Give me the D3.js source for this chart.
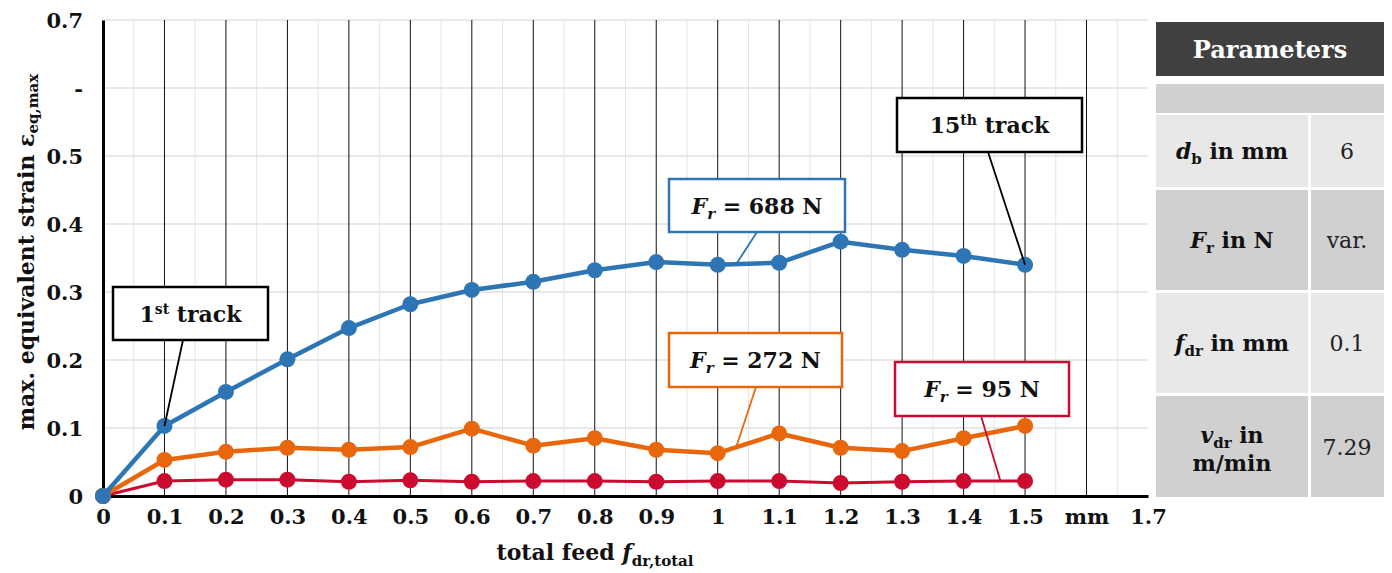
<!DOCTYPE html>
<html>
<head>
<meta charset="utf-8">
<script src="https://cdn.jsdelivr.net/npm/d3@7"></script>
<style>
  body { margin: 0; background: #fff; }
  svg text { font-family: "DejaVu Serif", "Liberation Serif", serif; }
</style>
</head>
<body>
<svg id="chart" width="1392" height="573"></svg>
<script>
// feed values (mm)
var feed = [0, 0.1, 0.2, 0.3, 0.4, 0.5, 0.6, 0.7, 0.8, 0.9, 1.0, 1.1, 1.2, 1.3, 1.4, 1.5];

var strain688 = [0, 0.103, 0.153, 0.201, 0.247, 0.282, 0.303, 0.315, 0.332, 0.344, 0.340, 0.343, 0.374, 0.362, 0.353, 0.340];
var strain272 = [0, 0.053, 0.065, 0.071, 0.068, 0.072, 0.099, 0.074, 0.085, 0.068, 0.063, 0.092, 0.071, 0.066, 0.085, 0.103];
var strain95  = [0, 0.022, 0.024, 0.024, 0.021, 0.023, 0.021, 0.022, 0.022, 0.021, 0.022, 0.022, 0.019, 0.021, 0.022, 0.022];

var xTicks = [0, 0.1, 0.2, 0.3, 0.4, 0.5, 0.6, 0.7, 0.8, 0.9, 1, 1.1, 1.2, 1.3, 1.4, 1.5, 1.6, 1.7];
var xTickLabels = ["0", "0.1", "0.2", "0.3", "0.4", "0.5", "0.6", "0.7", "0.8", "0.9", "1", "1.1", "1.2", "1.3", "1.4", "1.5", "mm", "1.7"];
var yTicks = [0, 0.1, 0.2, 0.3, 0.4, 0.5, 0.6, 0.7];
var yTickLabels = ["0", "0.1", "0.2", "0.3", "0.4", "0.5", "-", "0.7"];

var forces = ["688", "272", "95"];
var paramNames = ["d_b", "F_r", "f_dr", "v_dr"];
var paramValues = ["6", "var.", "0.1", "7.29"];

var series = [
  { name: forces[0], values: strain688, color: "#2e75b6", width: 4.5 },
  { name: forces[1], values: strain272, color: "#e8670c", width: 4.5 },
  { name: forces[2], values: strain95,  color: "#cc0a2f", width: 3 }
];

var svg = d3.select("#chart");

var x = d3.scaleLinear().domain([0, 1.7]).range([103, 1148]);
var y = d3.scaleLinear().domain([0, 0.7]).range([496, 20]);

// minor vertical gridlines
svg.append("g").selectAll("line")
   .data(d3.range(0.05, 1.7, 0.1))
   .enter().append("line")
     .attr("x1", function(d) { return x(d); })
     .attr("x2", function(d) { return x(d); })
     .attr("y1", y(0)).attr("y2", y(0.7))
     .attr("stroke", "#e4e4e4").attr("stroke-width", 1);

// horizontal gridlines
svg.append("g").selectAll("line")
   .data(yTicks.slice(1))
   .enter().append("line")
     .attr("x1", x(0)).attr("x2", x(1.7))
     .attr("y1", function(d) { return y(d); })
     .attr("y2", function(d) { return y(d); })
     .attr("stroke", "#e0e0e0").attr("stroke-width", 1.5);

// major vertical gridlines (black)
svg.append("g").selectAll("line")
   .data(xTicks.slice(1, 17))
   .enter().append("line")
     .attr("x1", function(d) { return x(d); })
     .attr("x2", function(d) { return x(d); })
     .attr("y1", y(0)).attr("y2", y(0.7))
     .attr("stroke", "#111").attr("stroke-width", 1);

// axes
var xAxis = d3.axisBottom(x).tickValues(xTicks).tickSize(0)
              .tickFormat(function(d, i) { return xTickLabels[i]; });
var yAxis = d3.axisLeft(y).tickValues(yTicks).tickSize(0)
              .tickFormat(function(d, i) { return yTickLabels[i]; });

var gx = svg.append("g").attr("transform", "translate(0," + y(0) + ")").call(xAxis);
gx.select(".domain").attr("stroke", "#000").attr("stroke-width", 3);
gx.selectAll("text").attr("dy", 0).attr("y", 28)
  .style("font-size", "21px").style("font-weight", "bold").attr("fill", "#111");

var gy = svg.append("g").attr("transform", "translate(" + x(0) + ",0)").call(yAxis);
gy.select(".domain").attr("stroke", "#000").attr("stroke-width", 3);
gy.selectAll("text").attr("x", -20).attr("dy", "0.35em")
  .style("font-size", "21px").style("font-weight", "bold").attr("fill", "#111");

// lines and markers
var line = d3.line()
  .x(function(d, i) { return x(feed[i]); })
  .y(function(d) { return y(d); });

series.slice().reverse().forEach(function(s) {
  svg.append("path").datum(s.values)
     .attr("d", line)
     .attr("fill", "none")
     .attr("stroke", s.color)
     .attr("stroke-width", s.width)
     .attr("stroke-linejoin", "round");
  svg.append("g").selectAll("circle")
     .data(s.values).enter().append("circle")
       .attr("cx", function(d, i) { return x(feed[i]); })
       .attr("cy", function(d) { return y(d); })
       .attr("r", 8)
       .attr("fill", s.color);
});

// annotation callouts
function valueAt(vals, f) {
  var i = Math.floor(f * 10 + 1e-9);
  var t = f * 10 - i;
  if (i >= vals.length - 1) return vals[vals.length - 1];
  return vals[i] + (vals[i + 1] - vals[i]) * t;
}

var callouts = [
  { box: [113, 287, 155, 53], color: "#000", from: [183, 340], to: [0.1, strain688], parts: [["1", ""], ["st", "sup"], [" track", ""]] },
  { box: [897, 98, 185, 54], color: "#000", from: [988, 152], to: [1.5, strain688], parts: [["15", ""], ["th", "sup"], [" track", ""]] },
  { box: [669, 179, 176, 53], color: "#2e75b6", from: [757, 232], to: [1.03, strain688], parts: [["F", "it"], ["r", "itsub"], [" = " + forces[0] + " N", ""]] },
  { box: [669, 333, 173, 54], color: "#e8670c", from: [756, 387], to: [1.03, strain272], parts: [["F", "it"], ["r", "itsub"], [" = " + forces[1] + " N", ""]] },
  { box: [895, 362, 174, 54], color: "#cc0a2f", from: [981, 416], to: [1.46, strain95], parts: [["F", "it"], ["r", "itsub"], [" = " + forces[2] + " N", ""]] }
];

callouts.forEach(function(c) {
  var tx = x(c.to[0]), ty = y(valueAt(c.to[1], c.to[0]));
  svg.append("line")
     .attr("x1", c.from[0]).attr("y1", c.from[1])
     .attr("x2", tx).attr("y2", ty)
     .attr("stroke", c.color).attr("stroke-width", 1.8);
  svg.append("rect")
     .attr("x", c.box[0]).attr("y", c.box[1])
     .attr("width", c.box[2]).attr("height", c.box[3])
     .attr("fill", "#fff").attr("stroke", c.color).attr("stroke-width", 2.5);
  var t = svg.append("text")
     .attr("x", c.box[0] + c.box[2] / 2)
     .attr("y", c.box[1] + c.box[3] / 2 + 8)
     .attr("text-anchor", "middle")
     .style("font-size", "22px").style("font-weight", "bold").attr("fill", "#111");
  c.parts.forEach(function(p) {
    var ts = t.append("tspan").text(p[0]);
    if (p[1] === "sup") ts.style("font-size", "14px").attr("baseline-shift", "8px");
    if (p[1] === "it") ts.style("font-style", "italic");
    if (p[1] === "itsub") ts.style("font-style", "italic").style("font-size", "15px").attr("baseline-shift", "-5px");
  });
});

// axis titles
var yt = svg.append("text")
  .attr("transform", "translate(34,252) rotate(-90)")
  .attr("text-anchor", "middle")
  .style("font-size", "22px").style("font-weight", "bold").attr("fill", "#111");
yt.append("tspan").text("max. equivalent strain ε");
yt.append("tspan").text("eq,max").style("font-size", "15px").attr("baseline-shift", "-4px");

var xt = svg.append("text")
  .attr("x", 595).attr("y", 560)
  .attr("text-anchor", "middle")
  .style("font-size", "22px").style("font-weight", "bold").attr("fill", "#111");
xt.append("tspan").text("total feed ");
xt.append("tspan").text("f").style("font-style", "italic");
xt.append("tspan").text("dr,total").style("font-size", "15px").attr("baseline-shift", "-6px");

// parameter table
var tab = svg.append("g");
tab.append("rect").attr("x", 1156).attr("y", 22).attr("width", 228).attr("height", 54).attr("fill", "#404040");
tab.append("text").attr("x", 1270).attr("y", 58).attr("text-anchor", "middle")
   .style("font-size", "24px").style("font-weight", "bold").attr("fill", "#fff").text("Parameters");
tab.append("rect").attr("x", 1156).attr("y", 84).attr("width", 228).attr("height", 29).attr("fill", "#d0d0d0");

var rowTop = [115, 190, 293, 396];
var rowH = [72, 100, 100, 101];
var rowFill = ["#e8e8e8", "#d0d0d0", "#e8e8e8", "#d0d0d0"];

paramNames.forEach(function(p, i) {
  tab.append("rect").attr("x", 1156).attr("y", rowTop[i]).attr("width", 152).attr("height", rowH[i]).attr("fill", rowFill[i]);
  tab.append("rect").attr("x", 1311).attr("y", rowTop[i]).attr("width", 73).attr("height", rowH[i]).attr("fill", rowFill[i]);
  var cy = rowTop[i] + rowH[i] / 2;
  var parts = p.split("_");
  var unit = i === 0 || i === 2 ? " in mm" : (i === 1 ? " in N" : " in");
  var lbl = tab.append("text").attr("x", 1232).attr("y", i === 3 ? cy - 4 : cy + 8)
     .attr("text-anchor", "middle")
     .style("font-size", "22px").style("font-weight", "bold").attr("fill", "#111");
  lbl.append("tspan").text(parts[0]).style("font-style", "italic");
  lbl.append("tspan").text(parts[1]).style("font-size", "15px").attr("baseline-shift", "-5px");
  lbl.append("tspan").text(unit);
  if (i === 3) {
    tab.append("text").attr("x", 1232).attr("y", cy + 24).attr("text-anchor", "middle")
       .style("font-size", "22px").style("font-weight", "bold").attr("fill", "#111").text("m/min");
  }
  tab.append("text").attr("x", 1347).attr("y", cy + 8).attr("text-anchor", "middle")
     .style("font-size", "22px").attr("fill", "#222").text(paramValues[i]);
});
</script>
</body>
</html>
